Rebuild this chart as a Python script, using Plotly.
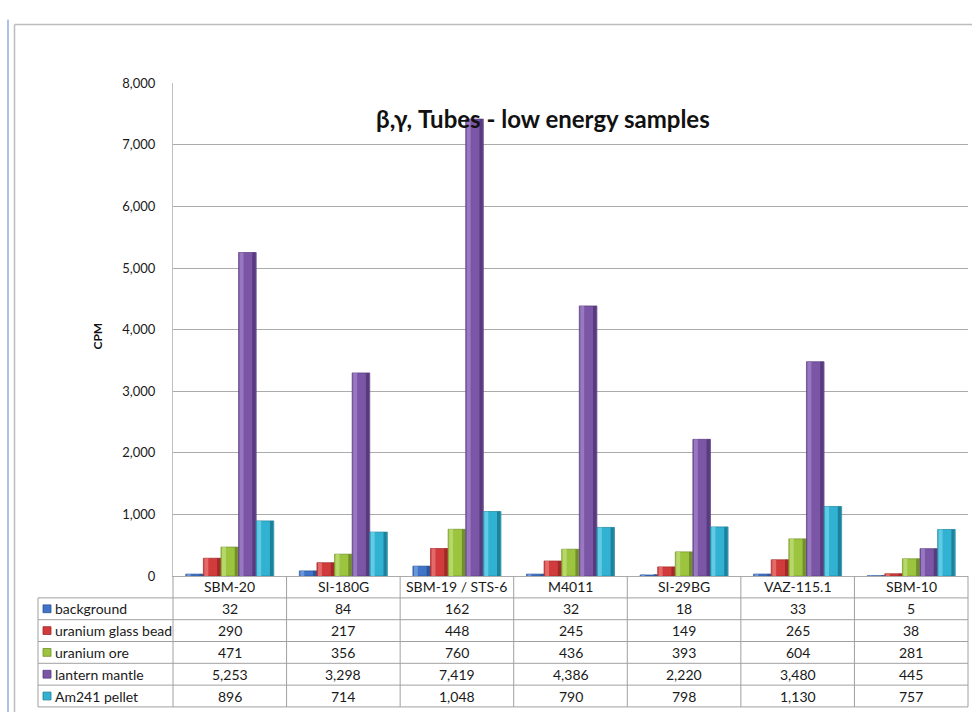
import plotly.graph_objects as go

# ---- data ----
tubes = ["SBM-20", "SI-180G", "SBM-19 / STS-6", "M4011", "SI-29BG", "VAZ-115.1", "SBM-10"]
series_names = ["background", "uranium glass bead", "uranium ore", "lantern mantle", "Am241 pellet"]
background = [32, 84, 162, 32, 18, 33, 5]
uranium_glass_bead = [290, 217, 448, 245, 149, 265, 38]
uranium_ore = [471, 356, 760, 436, 393, 604, 281]
lantern_mantle = [5253, 3298, 7419, 4386, 2220, 3480, 445]
am241_pellet = [896, 714, 1048, 790, 798, 1130, 757]
series_values = [background, uranium_glass_bead, uranium_ore, lantern_mantle, am241_pellet]
y_ticks = [0, 1000, 2000, 3000, 4000, 5000, 6000, 7000, 8000]

# base, highlight and shadow tones per series (bevelled column look)
colors = ["#3F74C8", "#D23B3B", "#9CC43E", "#7B56A6", "#31B2D3"]
lights = ["#6A95DA", "#E46A6A", "#B6D86A", "#9878C0", "#62CBE4"]
darks = ["#2B5596", "#9E2A2A", "#728F2C", "#573B7C", "#1F8199"]

W, H = 972, 720
FONT = "Lato"
GRID = "#ABABAB"
AXIS = "#BFBFBF"


def px(x):
    return x / W


def py(y):
    return 1 - y / H


# plot area in pixels
PL, PR, PT, PB = 173, 968, 77, 581

# column layout inside each category slot (category units)
bar_w = 0.155
group_w = bar_w * len(series_names)

fig = go.Figure()
for k, (name, vals) in enumerate(zip(series_names, series_values)):
    off = -group_w / 2 + k * bar_w
    # body of the column
    fig.add_trace(go.Bar(
        x=tubes, y=vals, name=name, offset=off, width=bar_w,
        marker=dict(color=colors[k], line=dict(color=darks[k], width=0.7)),
        showlegend=False, hoverinfo="x+y+name",
    ))
    # lighter left face
    fig.add_trace(go.Bar(
        x=tubes, y=vals, name=name, offset=off + bar_w * 0.06, width=bar_w * 0.22,
        marker=dict(color=lights[k], line=dict(width=0)),
        showlegend=False, hoverinfo="skip",
    ))
    # darker right face
    fig.add_trace(go.Bar(
        x=tubes, y=vals, name=name, offset=off + bar_w * 0.78, width=bar_w * 0.18,
        marker=dict(color=darks[k], line=dict(width=0)),
        showlegend=False, hoverinfo="skip",
    ))

shapes = []
annotations = []

# chart frame lines
shapes.append(dict(type="line", xref="paper", yref="paper",
                   x0=px(8), x1=px(8), y0=py(12), y1=py(720),
                   line=dict(color="#A9C3EA", width=2)))
shapes.append(dict(type="line", xref="paper", yref="paper",
                   x0=px(14.5), x1=px(14.5), y0=py(17), y1=py(720),
                   line=dict(color="#BDBDBD", width=1.5)))
shapes.append(dict(type="line", xref="paper", yref="paper",
                   x0=px(14.5), x1=px(972), y0=py(17), y1=py(17),
                   line=dict(color="#BDBDBD", width=1.5)))

# data table below the plot
n = len(tubes)
colw = (PR - PL) / n
row_h = 22.3
hdr_top = PB
hdr_bot = PB + 22.3
tbl_left = 38
rows_y = [hdr_bot + i * row_h for i in range(len(series_names) + 1)]
tbl_bot = rows_y[-1]

tcol = "#A0A0A0"
for i in range(n + 1):
    x = PL + i * colw
    shapes.append(dict(type="line", xref="paper", yref="paper",
                       x0=px(x), x1=px(x), y0=py(hdr_top), y1=py(tbl_bot),
                       line=dict(color=tcol, width=1)))
shapes.append(dict(type="line", xref="paper", yref="paper",
                   x0=px(tbl_left), x1=px(tbl_left), y0=py(hdr_bot), y1=py(tbl_bot),
                   line=dict(color=tcol, width=1)))
for y in rows_y:
    shapes.append(dict(type="line", xref="paper", yref="paper",
                       x0=px(tbl_left), x1=px(PR), y0=py(y), y1=py(y),
                       line=dict(color=tcol, width=1)))

TXT = dict(family=FONT, size=14, color="#1A1A1A")

# category header labels
for i, t in enumerate(tubes):
    annotations.append(dict(xref="paper", yref="paper",
                            x=px(PL + (i + 0.5) * colw), y=py((hdr_top + hdr_bot) / 2),
                            text=t, showarrow=False, xanchor="center", yanchor="middle",
                            font=TXT))

# series rows: legend key, name and values
for r, (name, vals) in enumerate(zip(series_names, series_values)):
    ym = (rows_y[r] + rows_y[r + 1]) / 2
    shapes.append(dict(type="rect", xref="paper", yref="paper",
                       x0=px(43), x1=px(51), y0=py(ym - 4), y1=py(ym + 4),
                       fillcolor=colors[r], line=dict(color=darks[r], width=0.8)))
    annotations.append(dict(xref="paper", yref="paper", x=px(53), y=py(ym),
                            text=name, showarrow=False, xanchor="left", yanchor="middle",
                            font=TXT))
    for i, v in enumerate(vals):
        annotations.append(dict(xref="paper", yref="paper",
                                x=px(PL + (i + 0.5) * colw), y=py(ym),
                                text=f"{v:,}", showarrow=False,
                                xanchor="center", yanchor="middle", font=TXT))

# chart title inside the plot area
annotations.append(dict(xref="paper", yref="paper", x=px(543), y=py(113),
                        text="<b>β,γ, Tubes - low energy samples</b>", showarrow=False,
                        xanchor="center", yanchor="middle",
                        font=dict(family=FONT, size=24, color="#111111")))
# axis title
annotations.append(dict(xref="paper", yref="paper", x=px(98), y=py(336),
                        text="<b>CPM</b>", showarrow=False, textangle=-90,
                        xanchor="center", yanchor="middle",
                        font=dict(family=FONT, size=12, color="#111111")))

fig.update_layout(
    width=W, height=H,
    margin=dict(l=0, r=0, t=0, b=0),
    paper_bgcolor="white", plot_bgcolor="white",
    barmode="overlay",
    xaxis=dict(domain=[px(PL), px(PR)], showticklabels=False, ticks="",
               showline=True, linecolor=GRID, linewidth=1, showgrid=False,
               range=[-0.5, n - 0.5]),
    yaxis=dict(domain=[py(PB), py(PT)], range=[0, 8000], tickvals=y_ticks,
               tickformat=",", showgrid=True, gridcolor=GRID, gridwidth=1,
               showline=True, linecolor=AXIS, linewidth=1, zeroline=False,
               ticks="", ticklabelstandoff=14,
               tickfont=dict(family=FONT, size=13, color="#1A1A1A")),
    shapes=shapes, annotations=annotations,
)

fig.write_html("out.html",
               post_script="document.body.style.margin='0';document.body.style.overflow='hidden';")
